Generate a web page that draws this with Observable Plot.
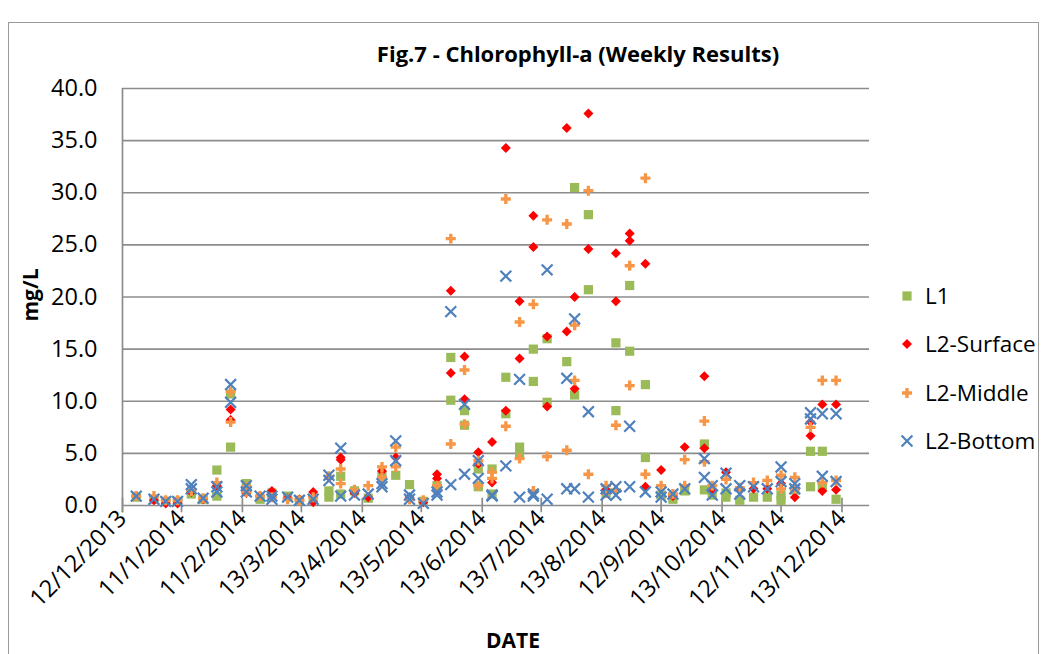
<!DOCTYPE html>
<html><head><meta charset="utf-8">
<script src="https://cdn.jsdelivr.net/npm/d3@7"></script>
<script src="https://cdn.jsdelivr.net/npm/@observablehq/plot@0.6"></script>
<style>
body{margin:0;background:#fff;}
#wrap{position:relative;width:1044px;height:654px;overflow:hidden;font-family:"Open Sans",sans-serif;color:#000;}
#frame{position:absolute;left:8px;top:22px;width:1031px;height:700px;border:1.5px solid #9a9a9a;box-sizing:border-box;}
#title{position:absolute;left:0;width:1156px;top:36px;text-align:center;font-weight:bold;font-size:22px;line-height:34px;}
#plot{position:absolute;left:0;top:0;}
#ylab{position:absolute;left:30px;top:295px;transform:translate(-50%,-50%) rotate(-90deg);font-weight:bold;font-size:21px;white-space:nowrap;}
#xlab{position:absolute;left:513px;top:640px;transform:translate(-50%,-50%);font-weight:bold;font-size:21px;}
#legend{position:absolute;left:890px;top:270px;}
</style>
</head><body>
<div id="wrap">
<div id="frame"></div>
<div id="plot"></div>
<div id="title">Fig.7 - Chlorophyll-a (Weekly Results)</div>
<div id="ylab">mg/L</div>
<div id="xlab">DATE</div>
<div id="legend"></div>
</div>
<script>
// ---- data ----
const dates = ["2013-12-19","2013-12-28","2014-01-03","2014-01-09","2014-01-16","2014-01-22","2014-01-29","2014-02-05","2014-02-13","2014-02-20","2014-02-26","2014-03-06","2014-03-12","2014-03-19","2014-03-27","2014-04-02","2014-04-09","2014-04-16","2014-04-23","2014-04-30","2014-05-07","2014-05-14","2014-05-21","2014-05-28","2014-06-04","2014-06-11","2014-06-18","2014-06-25","2014-07-02","2014-07-09","2014-07-16","2014-07-26","2014-07-30","2014-08-06","2014-08-15","2014-08-20","2014-08-27","2014-09-04","2014-09-12","2014-09-18","2014-09-24","2014-10-04","2014-10-08","2014-10-15","2014-10-22","2014-10-29","2014-11-05","2014-11-12","2014-11-19","2014-11-27","2014-12-03","2014-12-10"];
// first and second reading per sampling date (null = no second reading)
const L1a = [0.8,0.6,0.4,0.4,1.1,0.6,3.4,10.7,2.1,0.6,1.2,0.9,0.5,0.6,1.4,2.8,1.4,0.7,2.9,2.9,2.0,0.4,1.9,14.2,9.1,3.5,3.5,12.3,5.6,15.0,16.0,13.8,30.5,27.9,1.2,15.6,21.1,11.6,1.0,0.6,1.4,5.9,1.0,1.2,0.5,0.8,0.8,1.0,1.5,5.2,5.2,0.6];
const L1b = [null,null,null,null,null,null,0.9,5.6,1.4,null,null,null,null,null,0.8,1.1,null,null,null,null,null,null,null,10.1,7.7,1.8,1.1,8.8,4.9,11.9,9.9,null,10.6,20.7,null,9.1,14.8,4.6,null,null,null,1.5,null,0.8,null,null,null,0.5,null,1.8,1.9,null];
const SURa = [0.9,0.5,0.2,0.2,1.3,0.6,1.9,9.2,1.6,0.9,1.4,0.7,0.6,1.3,2.7,4.6,1.2,0.8,3.3,4.6,0.8,0.3,3.0,20.6,14.3,5.1,6.1,34.3,19.6,27.8,16.2,36.2,20.0,37.6,1.5,24.2,26.1,23.2,3.4,0.9,5.6,12.4,1.4,3.2,1.6,1.6,1.6,2.1,0.8,8.0,9.7,9.7];
const SURb = [null,null,null,null,null,null,null,8.2,1.2,null,null,null,null,0.3,null,4.4,null,null,null,null,null,null,2.6,12.7,10.2,4.0,2.2,9.1,14.1,24.8,9.5,16.7,11.2,24.6,null,19.6,25.4,1.8,null,null,null,5.5,null,null,null,null,null,null,null,6.7,1.4,1.5];
const MIDa = [0.9,0.9,0.5,0.5,1.4,0.7,2.2,10.9,1.8,0.9,0.8,0.6,0.5,0.8,2.8,3.5,1.5,1.9,3.7,5.6,0.6,0.5,1.9,25.6,13.0,4.3,3.2,29.4,17.6,19.3,27.4,27.0,17.3,30.2,1.9,7.7,23.0,31.4,1.9,1.1,4.4,8.1,1.9,2.5,1.7,2.2,2.4,2.9,2.7,7.5,12.0,12.0];
const MIDb = [null,null,null,null,null,null,null,8.0,1.3,null,null,null,null,null,null,2.1,null,null,2.7,3.7,null,null,null,5.9,7.8,1.9,2.6,7.6,4.5,1.4,4.7,5.3,12.0,3.0,1.2,1.5,11.5,3.0,null,null,1.9,4.2,null,null,null,null,null,1.6,1.6,null,2.2,2.4];
const BOTa = [0.9,0.6,0.4,0.4,2.0,0.7,1.8,11.6,1.9,0.9,0.9,0.8,0.5,0.6,2.9,5.5,1.0,1.1,2.1,6.2,1.0,0.2,1.3,18.6,9.7,4.3,1.0,22.0,12.1,1.1,22.6,12.2,17.9,9.0,1.6,1.8,7.6,1.3,0.8,1.1,1.6,4.5,1.9,3.1,1.9,1.8,1.6,3.7,2.1,8.9,8.8,8.8];
const BOTb = [null,null,null,null,1.6,null,1.3,9.9,1.3,null,0.6,null,null,null,2.4,0.9,null,null,1.8,4.3,0.6,null,1.0,2.0,3.0,2.6,0.9,3.8,0.8,0.9,0.6,1.6,1.6,0.8,1.0,1.0,1.8,null,1.3,null,null,2.7,1.0,1.6,1.1,null,null,2.3,1.6,8.3,2.8,2.3];
const seriesNames = ["L1","L2-Surface","L2-Middle","L2-Bottom"];
const seriesColors = ["#9BBB59","#FF0000","#F79646","#4F81BD"];
const tickDates = ["2013-12-12","2014-01-11","2014-02-11","2014-03-13","2014-04-13","2014-05-13","2014-06-13","2014-07-13","2014-08-13","2014-09-12","2014-10-13","2014-11-12","2014-12-13"];
const yTicks = [0,5,10,15,20,25,30,35,40];
const xDomain = ["2013-12-12","2014-12-27"];

// ---- build rows ----
function rows(a, b, name) {
  const out = [];
  dates.forEach((d, i) => {
    out.push({date: new Date(d), value: a[i], series: name});
    if (b[i] != null) out.push({date: new Date(d), value: b[i], series: name});
  });
  return out;
}
const dL1 = rows(L1a, L1b, seriesNames[0]);
const dS = rows(SURa, SURb, seriesNames[1]);
const dM = rows(MIDa, MIDb, seriesNames[2]);
const dB = rows(BOTa, BOTb, seriesNames[3]);

const grid = "#8c8c8c";
const fmt = d3.utcFormat("%-d/%-m/%Y");
const tD = tickDates.map(d => new Date(d));

const chart = Plot.plot({
  width: 1044, height: 654,
  marginLeft: 122, marginRight: 175, marginTop: 88, marginBottom: 149,
  style: {fontFamily: "Open Sans, sans-serif", fontSize: "23.5px", background: "transparent", color: "#000", overflow: "visible"},
  x: {type: "utc", domain: xDomain.map(d => new Date(d))},
  y: {domain: [0, 40]},
  marks: [
    Plot.ruleY(yTicks.filter(v => v > 0), {stroke: grid, strokeWidth: 1.7}),
    Plot.ruleX([tD[0]], {y1: -0.7, y2: 40, stroke: grid, strokeWidth: 1.7}),
    Plot.ruleY([0], {stroke: grid, strokeWidth: 1.7}),
    Plot.ruleX(tD, {y1: -0.7, y2: 0.7, stroke: grid, strokeWidth: 1.7}),
    Plot.axisY(yTicks, {tickFormat: d => d.toFixed(1), tickSize: 0, tickPadding: 25, label: null, fontSize: 23.5}),
    Plot.axisX(tD, {tickFormat: fmt, tickRotate: -45, tickSize: 0, tickPadding: 9, label: null, fontSize: 23.5}),
    Plot.dot(dL1, {x: "date", y: "value", symbol: "square", r: 5.2, fill: seriesColors[0], stroke: "none"}),
    Plot.dot(dS, {x: "date", y: "value", symbol: "diamond2", r: 4.5, fill: seriesColors[1], stroke: "none"}),
    Plot.dot(dM, {x: "date", y: "value", symbol: "cross", r: 4.2, fill: seriesColors[2], stroke: "none"}),
    Plot.dot(dB, {x: "date", y: "value", symbol: "times", r: 5, stroke: seriesColors[3], strokeWidth: 2.2, fill: "none"})
  ]
});
document.getElementById("plot").appendChild(chart);

// ---- legend ----
const symTypes = [d3.symbolSquare, d3.symbolDiamond2, d3.symbolCross, d3.symbolTimes];
const legendSizes = [Math.PI*5.2*5.2, Math.PI*4.5*4.5, Math.PI*4.2*4.2, Math.PI*5*5];
const lg = d3.select("#legend").append("svg").attr("width", 154).attr("height", 200)
  .style("font-family", "Open Sans, sans-serif").style("font-size", "22.5px");
seriesNames.forEach((name, i) => {
  const g = lg.append("g").attr("transform", `translate(0,${[26,74,123,171][i]})`);
  const p = g.append("path").attr("transform", "translate(17,0)")
    .attr("d", d3.symbol(symTypes[i], legendSizes[i])());
  if (i === 3) p.attr("fill", "none").attr("stroke", seriesColors[i]).attr("stroke-width", 2.2);
  else p.attr("fill", seriesColors[i]);
  g.append("text").attr("x", 35).attr("dy", "0.35em").text(name);
});
</script>
</body></html>
